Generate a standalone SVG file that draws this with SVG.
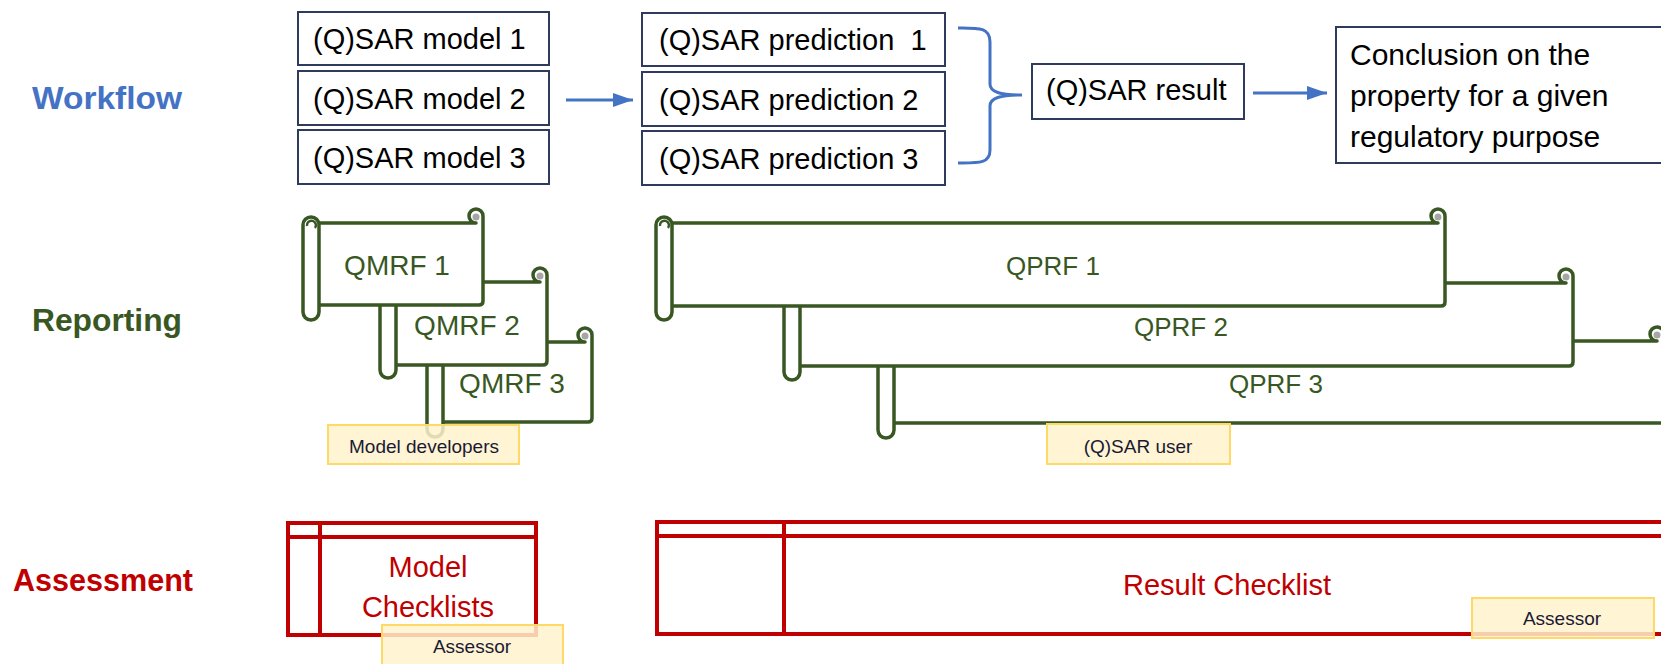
<svg xmlns="http://www.w3.org/2000/svg" width="1661" height="664" viewBox="0 0 1661 664">
<style>
text{font-family:"Liberation Sans",Arial,sans-serif}
.wbox{fill:#fff;stroke:#2F3B5C;stroke-width:2}
.wtxt{font-size:29px;fill:#000;white-space:pre}
.lbl{font-size:32px;font-weight:bold}
.scroll{fill:#fff;stroke:#385723;stroke-width:3.5;stroke-linejoin:round}
.sline{fill:none;stroke:#385723;stroke-width:2.5}
.curl{fill:#A6A6A6}
.stxt{font-size:28px;fill:#385723;text-anchor:middle}
.qtxt{font-size:26px;fill:#385723;text-anchor:middle}
.note{fill:#FFF2CC;fill-opacity:0.85;stroke:#FFD966;stroke-width:2}
.ntxt{font-size:19px;fill:#1A1A33;text-anchor:middle}
.chk{fill:#fff;stroke:#C00000;stroke-width:4}
.chl{fill:none;stroke:#C00000;stroke-width:4}
.ctxt{font-size:29px;fill:#C00000;text-anchor:middle}
.conn{stroke:#4472C4;stroke-width:3;fill:none}
</style>
<defs>
<marker id="ah" markerUnits="userSpaceOnUse" markerWidth="20" markerHeight="14" refX="20" refY="7" orient="auto">
<path d="M0,0 L20,7 L0,14 Z" fill="#4472C4"/>
</marker>
</defs>

<g id="labels">
<text class="lbl" x="32" y="109" fill="#4472C4" textLength="150" lengthAdjust="spacingAndGlyphs">Workflow</text>
<text class="lbl" x="32" y="331" fill="#385723" textLength="150" lengthAdjust="spacingAndGlyphs">Reporting</text>
<text class="lbl" x="13" y="591" fill="#C00000" textLength="180" lengthAdjust="spacingAndGlyphs">Assessment</text>
</g>

<g id="model1"><rect class="wbox" x="298" y="12" width="251" height="53"/><text class="wtxt" x="313" y="49">(Q)SAR model 1</text></g>
<g id="model2"><rect class="wbox" x="298" y="71" width="251" height="54"/><text class="wtxt" x="313" y="109">(Q)SAR model 2</text></g>
<g id="model3"><rect class="wbox" x="298" y="130" width="251" height="54"/><text class="wtxt" x="313" y="168">(Q)SAR model 3</text></g>

<g id="pred1"><rect class="wbox" x="642" y="13" width="303" height="53"/><text class="wtxt" x="659" y="50">(Q)SAR prediction  1</text></g>
<g id="pred2"><rect class="wbox" x="642" y="72" width="303" height="54"/><text class="wtxt" x="659" y="110">(Q)SAR prediction 2</text></g>
<g id="pred3"><rect class="wbox" x="642" y="131" width="303" height="54"/><text class="wtxt" x="659" y="169">(Q)SAR prediction 3</text></g>

<g id="result"><rect class="wbox" x="1032" y="64" width="212" height="55"/><text class="wtxt" x="1046" y="100">(Q)SAR result</text></g>

<g id="conclusion"><rect class="wbox" x="1336" y="27" width="340" height="136"/>
<text class="wtxt" x="1350" y="65" style="font-size:30px">Conclusion on the</text>
<text class="wtxt" x="1350" y="106" style="font-size:30px">property for a given</text>
<text class="wtxt" x="1350" y="147" style="font-size:30px">regulatory purpose</text>
</g>

<g id="connectors">
<line class="conn" x1="566" y1="100" x2="633" y2="100" marker-end="url(#ah)"/>
<path class="conn" d="M958,28 C978,28 990,27 990,42 V84 C990,92 1000,95 1022,95 C1000,95 990,98 990,106 V150 C990,164 978,163 958,163"/>
<line class="conn" x1="1253" y1="93" x2="1327" y2="93" marker-end="url(#ah)"/>
</g>

<g id="qmrf3">
<path class="scroll" d="M435,342 H585 A7,7 0 1 1 592,335 V418 Q592,422 588,422 H435 Z"/>
<circle class="curl" cx="585" cy="336" r="3.5"/>
<rect class="scroll" x="427" y="336" width="16" height="101" rx="8"/>
<text class="stxt" x="512" y="393">QMRF 3</text>
</g>
<g id="qmrf2">
<path class="scroll" d="M388,282 H540 A7,7 0 1 1 547,275 V361 Q547,365 543,365 H388 Z"/>
<circle class="curl" cx="540" cy="276" r="3.5"/>
<rect class="scroll" x="380" y="276" width="16" height="102" rx="8"/>
<text class="stxt" x="467" y="335">QMRF 2</text>
</g>
<g id="qmrf1">
<path class="scroll" d="M311,223 H476 A7,7 0 1 1 483,216 V301 Q483,305 479,305 H311 Z"/>
<circle class="curl" cx="476" cy="217" r="3.5"/>
<rect class="scroll" x="303" y="217" width="16" height="103" rx="8"/>
<path class="sline" d="M307,226 a4.5,4.5 0 1 1 8,2"/>
<text class="stxt" x="397" y="275">QMRF 1</text>
</g>

<g id="qprf3">
<path class="scroll" d="M886,341 H1657 A7,7 0 1 1 1664,334 V419 Q1664,423 1660,423 H886 Z"/>
<circle class="curl" cx="1657" cy="335" r="3.5"/>
<rect class="scroll" x="878" y="335" width="16" height="103" rx="8"/>
<text class="qtxt" x="1276" y="393">QPRF 3</text>
</g>
<g id="qprf2">
<path class="scroll" d="M792,283 H1566 A7,7 0 1 1 1573,276 V362 Q1573,366 1569,366 H792 Z"/>
<circle class="curl" cx="1566" cy="277" r="3.5"/>
<rect class="scroll" x="784" y="277" width="16" height="103" rx="8"/>
<text class="qtxt" x="1181" y="336">QPRF 2</text>
</g>
<g id="qprf1">
<path class="scroll" d="M664,223 H1438 A7,7 0 1 1 1445,216 V302 Q1445,306 1441,306 H664 Z"/>
<circle class="curl" cx="1438" cy="217" r="3.5"/>
<rect class="scroll" x="656" y="217" width="16" height="103" rx="8"/>
<path class="sline" d="M660,226 a4.5,4.5 0 1 1 8,2"/>
<text class="qtxt" x="1053" y="275">QPRF 1</text>
</g>

<g id="note-developers"><rect class="note" x="328" y="425" width="191" height="39"/><text class="ntxt" x="424" y="453">Model developers</text></g>
<g id="note-user"><rect class="note" x="1047" y="424" width="183" height="40"/><text class="ntxt" x="1138" y="453">(Q)SAR user</text></g>

<g id="model-checklists">
<rect class="chk" x="288" y="523" width="248" height="112"/>
<path class="chl" d="M288,537 H536 M320,523 V635"/>
<text class="ctxt" x="428" y="577">Model</text>
<text class="ctxt" x="428" y="617">Checklists</text>
</g>
<g id="result-checklist">
<rect class="chk" x="657" y="522" width="1020" height="112"/>
<path class="chl" d="M657,536 H1677 M784,522 V634"/>
<text class="ctxt" x="1227" y="595">Result Checklist</text>
</g>

<g id="note-assessor1"><rect class="note" x="382" y="625" width="181" height="42"/><text class="ntxt" x="472" y="653">Assessor</text></g>
<g id="note-assessor2"><rect class="note" x="1472" y="598" width="182" height="40"/><text class="ntxt" x="1562" y="625">Assessor</text></g>
</svg>
